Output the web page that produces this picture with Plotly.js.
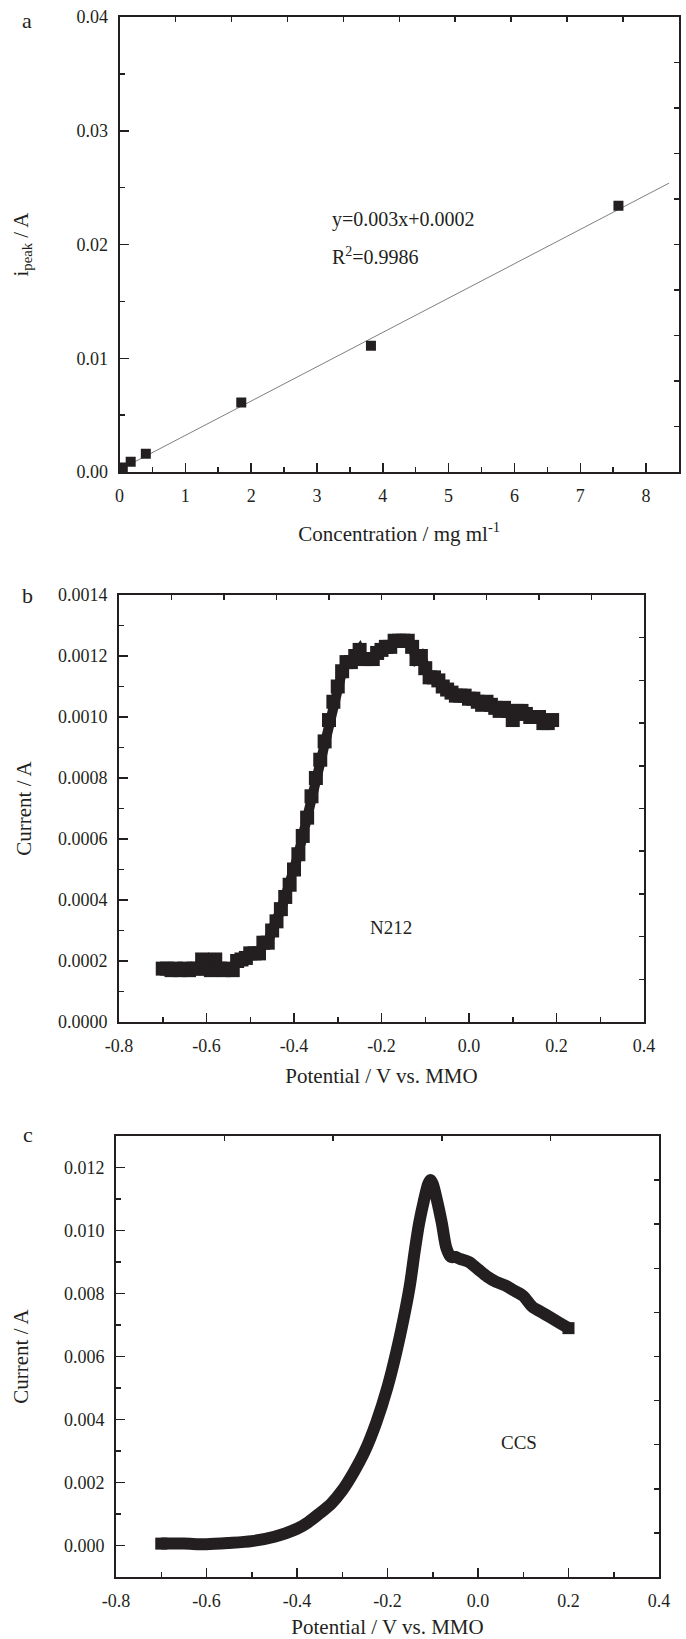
<!DOCTYPE html>
<html>
<head>
<meta charset="utf-8">
<script src="https://cdn.plot.ly/plotly-3.0.1.min.js"></script>
<style>html,body{margin:0;padding:0;background:#fff;}#chart{width:686px;height:1639px;}</style>
</head>
<body>
<div id="chart"></div>
<script>
// ---------- Panel a: calibration ----------
var aConc = [0.05, 0.17, 0.40, 1.85, 3.82, 7.58];
var aPeak = [0.0004, 0.0009, 0.0016, 0.0061, 0.0111, 0.0234];
var aFitX = [0, 8.35];
var aFitY = [0.0002, 0.0254];
var aXTickVals = [0, 1, 2, 3, 4, 5, 6, 7, 8];
var aXTickText = ['0', '1', '2', '3', '4', '5', '6', '7', '8'];
var aYTickVals = [0, 0.01, 0.02, 0.03, 0.04];
var aYTickText = ['0.00', '0.01', '0.02', '0.03', '0.04'];

// ---------- Panel b: N212 ----------
var bV = [-0.70,-0.69,-0.68,-0.67,-0.66,-0.65,-0.64,-0.63,-0.62,-0.61,-0.60,-0.59,-0.58,-0.57,-0.56,-0.55,-0.54,-0.53,-0.52,-0.51,
          -0.50,-0.49,-0.48,-0.47,-0.46,-0.45,-0.44,-0.43,-0.42,-0.41,-0.40,-0.39,-0.38,-0.37,-0.36,-0.35,-0.34,-0.33,-0.32,-0.31,
          -0.30,-0.29,-0.28,-0.27,-0.26,-0.25,-0.24,-0.23,-0.22,-0.21,-0.20,-0.19,-0.18,-0.17,-0.16,-0.15,-0.14,-0.13,-0.12,-0.11,
          -0.10,-0.09,-0.08,-0.07,-0.06,-0.05,-0.04,-0.03,-0.02,-0.01,0.00,0.01,0.02,0.03,0.04,0.05,0.06,0.07,0.08,0.09,
          0.10,0.11,0.12,0.13,0.14,0.15,0.16,0.17,0.18,0.19];
var bI = [0.000175,0.000175,0.000170,0.000175,0.000170,0.000175,0.000170,0.000175,0.000175,0.000205,0.000175,0.000170,0.000205,0.000175,0.000170,0.000175,0.000170,0.000200,0.000205,0.000210,
          0.000225,0.000225,0.000225,0.000260,0.000260,0.000300,0.000330,0.000370,0.000410,0.000450,0.000500,0.000550,0.000610,0.000670,0.000740,0.000800,0.000860,0.000920,0.000990,0.001050,
          0.001100,0.001150,0.001180,0.001180,0.001200,0.001220,0.001190,0.001190,0.001190,0.001210,0.001220,0.001230,0.001230,0.001250,0.001250,0.001250,0.001250,0.001230,0.001190,0.001200,
          0.001160,0.001130,0.001130,0.001120,0.001100,0.001090,0.001080,0.001070,0.001070,0.001070,0.001060,0.001060,0.001050,0.001040,0.001050,0.001040,0.001030,0.001020,0.001030,0.001020,
          0.000990,0.001020,0.001020,0.001010,0.001000,0.001000,0.001000,0.000980,0.000980,0.000990];
var bXTickVals = [-0.8, -0.6, -0.4, -0.2, 0.0, 0.2, 0.4];
var bXTickText = ['-0.8', '-0.6', '-0.4', '-0.2', '0.0', '0.2', '0.4'];
var bYTickVals = [0, 0.0002, 0.0004, 0.0006, 0.0008, 0.0010, 0.0012, 0.0014];
var bYTickText = ['0.0000', '0.0002', '0.0004', '0.0006', '0.0008', '0.0010', '0.0012', '0.0014'];

// ---------- Panel c: CCS ----------
var cV = [-0.70,-0.65,-0.60,-0.55,-0.50,-0.45,-0.40,-0.375,-0.35,-0.325,-0.30,-0.275,-0.25,-0.225,-0.20,-0.18,-0.16,-0.15,-0.14,-0.13,
          -0.12,-0.11,-0.105,-0.10,-0.09,-0.08,-0.07,-0.06,-0.05,-0.04,-0.02,0.00,0.02,0.04,0.06,0.08,0.10,0.12,0.14,0.16,0.18,0.20];
var cI = [0.00006,0.00006,0.00004,0.00008,0.00014,0.00028,0.00053,0.00074,0.00102,0.00132,0.00175,0.00232,0.00300,0.00390,0.00503,0.00617,0.00752,0.00831,0.00933,0.01024,
          0.01092,0.01148,0.01160,0.01148,0.01092,0.01024,0.00945,0.00916,0.00916,0.00910,0.00900,0.00877,0.00854,0.00837,0.00826,0.00809,0.00792,0.00758,0.00741,0.00724,0.00707,0.00690];
var cXTickVals = [-0.8, -0.6, -0.4, -0.2, 0.0, 0.2, 0.4];
var cXTickText = ['-0.8', '-0.6', '-0.4', '-0.2', '0.0', '0.2', '0.4'];
var cYTickVals = [0, 0.002, 0.004, 0.006, 0.008, 0.010, 0.012];
var cYTickText = ['0.000', '0.002', '0.004', '0.006', '0.008', '0.010', '0.012'];

// ---------- layout helpers ----------
var W = 686, H = 1639;
var INK = '#231f20';
var FONT = 'Liberation Serif';
function dx(a, b) { return [a / W, b / W]; }
function dy(top, bottom) { return [1 - bottom / H, 1 - top / H]; }

function mainAxis(domain, range, tv, tt, minorD, anchor, title, standoff) {
  return {
    domain: domain, range: range, anchor: anchor,
    tickmode: 'array', tickvals: tv, ticktext: tt,
    ticks: 'inside', ticklen: 9, tickwidth: 1.5, tickcolor: INK,
    minor: { dtick: minorD, tick0: 0, ticks: 'inside', ticklen: 5, tickwidth: 1.5, tickcolor: INK },
    showline: true, linewidth: 2, linecolor: INK, mirror: true,
    showgrid: false, zeroline: false,
    tickfont: { family: FONT, size: 18, color: INK },
    ticklabelstandoff: 6,
    title: { text: title, font: { family: FONT, size: 21, color: INK }, standoff: standoff }
  };
}
function mirrorAxis(over, anchor, side, range, tv) {
  return {
    overlaying: over, anchor: anchor, side: side, range: range,
    tickmode: 'array', tickvals: tv, ticks: 'inside', ticklen: 5, tickwidth: 1.5, tickcolor: INK,
    showticklabels: false, showline: false, showgrid: false, zeroline: false
  };
}
function seq(start, step, n) { var o = []; for (var i = 1; i <= n; i++) o.push(+(start + step * i).toFixed(6)); return o; }

var traces = [
  { x: aFitX, y: aFitY, xaxis: 'x', yaxis: 'y', mode: 'lines', line: { color: '#7f7f7f', width: 1 }, hoverinfo: 'skip' },
  { x: aConc, y: aPeak, xaxis: 'x', yaxis: 'y', mode: 'markers', marker: { symbol: 'square', size: 10, color: INK } },
  { x: bV, y: bI, xaxis: 'x2', yaxis: 'y2', mode: 'lines+markers', line: { color: INK, width: 10 }, marker: { symbol: 'square', size: 14, color: INK } },
  { x: cV, y: cI, xaxis: 'x3', yaxis: 'y3', mode: 'lines', line: { color: INK, width: 12, shape: 'spline', smoothing: 0.8 } },
  { x: [cV[0], cV[cV.length - 1]], y: [cI[0], cI[cI.length - 1]], xaxis: 'x3', yaxis: 'y3', mode: 'markers', marker: { symbol: 'square', size: 12, color: INK } },
  { x: [], y: [], xaxis: 'x4', yaxis: 'y4' },
  { x: [], y: [], xaxis: 'x5', yaxis: 'y5' },
  { x: [], y: [], xaxis: 'x6', yaxis: 'y6' }
];

var layout = {
  width: W, height: H, showlegend: false,
  margin: { l: 0, r: 0, t: 0, b: 0 },
  paper_bgcolor: '#fff', plot_bgcolor: 'rgba(0,0,0,0)',
  font: { family: FONT, color: INK, size: 18 },
  xaxis: mainAxis(dx(119.5, 679), [0, 8.5], aXTickVals, aXTickText, 0.5, 'y', 'Concentration / mg ml<sup>-1</sup>', 22),
  yaxis: mainAxis(dy(17, 472), [0, 0.04], aYTickVals, aYTickText, 0.005, 'x', 'i<sub>peak</sub> / A', 42),
  xaxis2: mainAxis(dx(119, 644), [-0.8, 0.4], bXTickVals, bXTickText, 0.1, 'y2', 'Potential / V vs. MMO', 14),
  yaxis2: mainAxis(dy(595, 1022), [0, 0.0014], bYTickVals, bYTickText, 0.0001, 'x2', 'Current / A', 21),
  xaxis3: mainAxis(dx(116, 659), [-0.8, 0.4], cXTickVals, cXTickText, 0.1, 'y3', 'Potential / V vs. MMO', 16),
  yaxis3: mainAxis(dy(1136, 1577), [-0.001, 0.013], cYTickVals, cYTickText, 0.001, 'x3', 'Current / A', 30),
  xaxis4: mirrorAxis('x', 'y', 'top', [0, 8.5], seq(0, 0.85, 9)),
  yaxis4: mirrorAxis('y', 'x', 'right', [0, 0.04], seq(0, 0.004, 9)),
  xaxis5: mirrorAxis('x2', 'y2', 'top', [-0.8, 0.4], seq(-0.8, 0.12, 9)),
  yaxis5: mirrorAxis('y2', 'x2', 'right', [0, 0.0014], seq(0, 0.00014, 9)),
  xaxis6: mirrorAxis('x3', 'y3', 'top', [-0.8, 0.4], seq(-0.8, 0.24, 4)),
  yaxis6: mirrorAxis('y3', 'x3', 'right', [-0.001, 0.013], seq(-0.001, 0.0014, 9)),
  annotations: [
    { text: 'a', xref: 'paper', yref: 'paper', x: 27 / W, y: 1 - 21 / H, showarrow: false, xanchor: 'center', yanchor: 'middle', font: { family: FONT, size: 22, color: INK } },
    { text: 'b', xref: 'paper', yref: 'paper', x: 27.5 / W, y: 1 - 595 / H, showarrow: false, xanchor: 'center', yanchor: 'middle', font: { family: FONT, size: 22, color: INK } },
    { text: 'c', xref: 'paper', yref: 'paper', x: 28 / W, y: 1 - 1134 / H, showarrow: false, xanchor: 'center', yanchor: 'middle', font: { family: FONT, size: 22, color: INK } },
    { text: 'y=0.003x+0.0002', xref: 'x', yref: 'y', x: 3.2, y: 0.0222, showarrow: false, xanchor: 'left', yanchor: 'middle', font: { family: FONT, size: 20, color: INK } },
    { text: 'R<sup>2</sup>=0.9986', xref: 'x', yref: 'y', x: 3.2, y: 0.0190, showarrow: false, xanchor: 'left', yanchor: 'middle', font: { family: FONT, size: 20, color: INK } },
    { text: 'N212', xref: 'x2', yref: 'y2', x: -0.178, y: 0.000311, showarrow: false, xanchor: 'center', yanchor: 'middle', font: { family: FONT, size: 19, color: INK } },
    { text: 'CCS', xref: 'x3', yref: 'y3', x: 0.0895, y: 0.00328, showarrow: false, xanchor: 'center', yanchor: 'middle', font: { family: FONT, size: 19, color: INK } }
  ]
};

Plotly.newPlot('chart', traces, layout, { staticPlot: true, displayModeBar: false });
</script>
</body>
</html>
